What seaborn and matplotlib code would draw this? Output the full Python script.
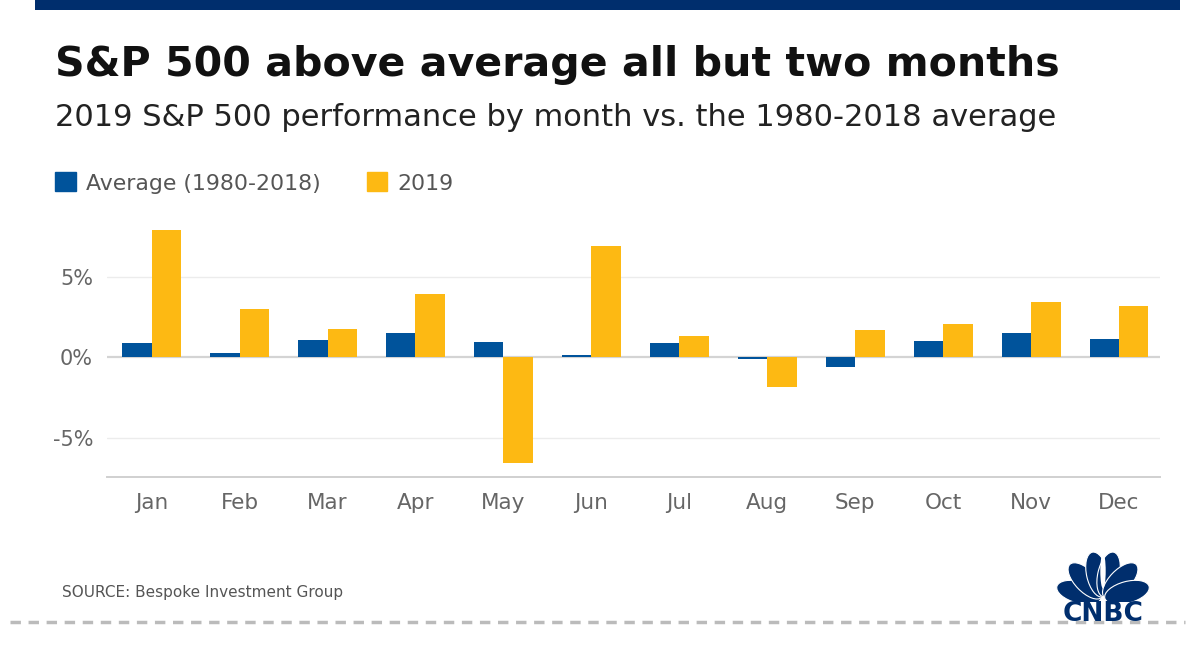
import matplotlib
matplotlib.use("Agg")
import matplotlib.pyplot as plt
import matplotlib.patches as mpatches
import matplotlib.lines as mlines
import seaborn as sns
import pandas as pd
import numpy as np

months = ["Jan", "Feb", "Mar", "Apr", "May", "Jun", "Jul", "Aug", "Sep", "Oct", "Nov", "Dec"]
avg_1980_2018 = [0.86, 0.27, 1.06, 1.52, 0.94, 0.13, 0.86, -0.10, -0.58, 1.03, 1.52, 1.13]
perf_2019 = [7.87, 2.97, 1.76, 3.93, -6.58, 6.89, 1.31, -1.81, 1.72, 2.04, 3.40, 3.16]
series_names = ["Average (1980-2018)", "2019"]
ytick_vals = [-5, 0, 5]
ytick_labels = ["-5%", "0%", "5%"]

BLUE = "#00539b"
YELLOW = "#fdb913"
NAVY = "#002e6d"

df = pd.DataFrame({
    "month": months * 2,
    "value": avg_1980_2018 + perf_2019,
    "series": [series_names[0]] * 12 + [series_names[1]] * 12,
})

sns.set_theme(style="white")
plt.rcParams["font.family"] = ["DejaVu Sans"]

W, H = 1190, 651
fig = plt.figure(figsize=(W / 100, H / 100), dpi=100)
fig.patch.set_facecolor("white")

def fx(px):
    return px / W

def fy(py):
    return 1 - py / H

ax = fig.add_axes([fx(107), fy(476.7), fx(1160) - fx(107), fy(225) - fy(476.7)])
sns.barplot(data=df, x="month", y="value", hue="series", order=months,
            hue_order=series_names, palette=[BLUE, YELLOW], width=0.67,
            saturation=1, ax=ax, legend=False, zorder=3)
for p in ax.patches:
    p.set_edgecolor("none")

ax.set_ylim(-7.4, 8.2)
ax.set_xlim(-0.508, 11.466)
ax.set_xlabel("")
ax.set_ylabel("")
ax.set_yticks(ytick_vals)
ax.set_yticklabels(ytick_labels)
for v in [-5, 5]:
    ax.axhline(v, color="#ececec", lw=1.0, zorder=1)
ax.axhline(0, color="#d4d4d4", lw=1.6, zorder=2)
for s in ["top", "right", "left"]:
    ax.spines[s].set_visible(False)
ax.spines["bottom"].set_color("#d0d0d0")
ax.spines["bottom"].set_linewidth(1.4)
ax.tick_params(axis="x", length=0, pad=12, labelsize=15.5, labelcolor="#666666")
ax.tick_params(axis="y", length=0, pad=10, labelsize=15, labelcolor="#666666")

# top navy band
fig.add_artist(mpatches.Rectangle((fx(35), fy(10)), fx(1180) - fx(35), fy(0) - fy(10),
                                  transform=fig.transFigure, color=NAVY, lw=0))

fig.text(fx(55), fy(65), "S&P 500 above average all but two months", fontsize=29.6,
         fontweight="bold", color="#111111", va="center", ha="left")
fig.text(fx(55), fy(117), "2019 S&P 500 performance by month vs. the 1980-2018 average",
         fontsize=22, color="#222222", va="center", ha="left")

handles = [mpatches.Patch(color=BLUE, label=series_names[0]),
           mpatches.Patch(color=YELLOW, label=series_names[1])]
leg = fig.legend(handles=handles, loc="center left", bbox_to_anchor=(fx(55), fy(183)),
                 ncol=2, frameon=False, fontsize=15.8, handlelength=0.95, handleheight=0.95,
                 handletextpad=0.45, columnspacing=2.1, borderaxespad=0, borderpad=0)
for t in leg.get_texts():
    t.set_color("#555555")

fig.text(fx(62), fy(593), "SOURCE: Bespoke Investment Group", fontsize=11,
         color="#555555", va="center", ha="left")

# dashed bottom line
fig.add_artist(mlines.Line2D([fx(10), fx(1185)], [fy(622), fy(622)], transform=fig.transFigure,
                             color="#bbbbbb", lw=2.5, linestyle=(0, (3, 2.2))))

# CNBC logo
fig.text(fx(1103), fy(614), "CNBC", fontsize=19, fontweight="bold", color=NAVY,
         va="center", ha="center")
lax = fig.add_axes([fx(1055), fy(602), fx(1151) - fx(1055), fy(548) - fy(602)])
lax.set_xlim(-1.78, 1.78)
lax.set_ylim(0, 2.0)
lax.axis("off")
angles = [165, 134, 103, 77, 46, 15]
for a in angles:
    r = np.deg2rad(a)
    cx, cy = 0.92 * np.cos(r), 0.92 * np.sin(r) + 0.12
    lax.add_patch(mpatches.Ellipse((cx, cy), 0.8, 1.7, angle=a - 90, facecolor=NAVY,
                                   edgecolor="white", lw=0.8))
lax.add_patch(mpatches.Ellipse((0, 1.15), 0.2, 1.3, color="white", lw=0))

fig.savefig("out.png", dpi=100, facecolor="white")
